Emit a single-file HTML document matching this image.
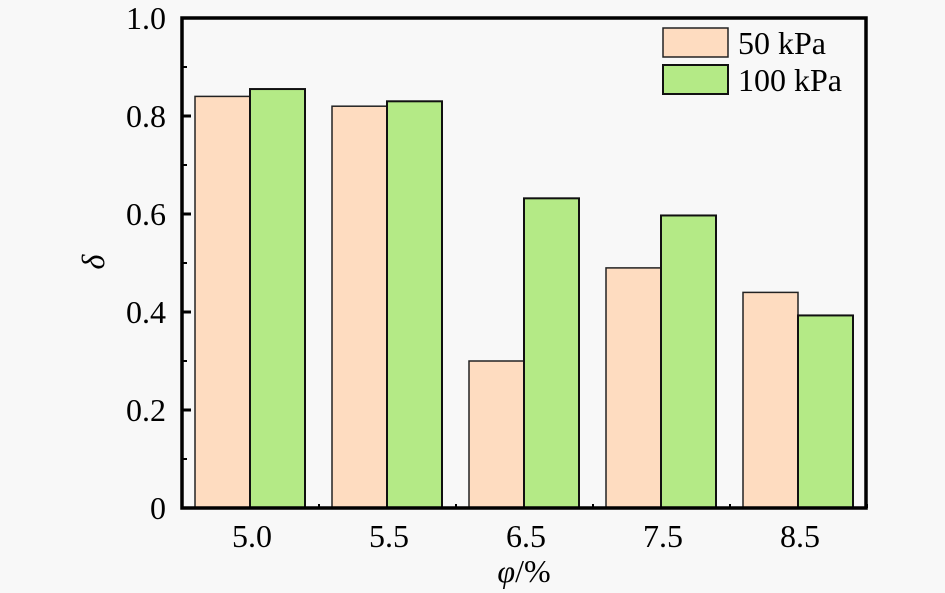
<!DOCTYPE html>
<html><head><meta charset="utf-8"><style>
html,body{margin:0;padding:0;background:#f8f8f8;}
svg{display:block;font-family:"Liberation Serif",serif;}
</style></head><body>
<svg width="945" height="593" viewBox="0 0 945 593">
<rect x="0" y="0" width="945" height="593" fill="#f8f8f8"/>
<g id="bars"></g>
<g id="axes"></g>
<g>
<rect x="663" y="28" width="65" height="29" fill="#fedcc0" stroke="#222" stroke-width="1.5"/>
<text x="738" y="54" font-size="32">50 kPa</text>
<rect x="663" y="65" width="65" height="29" fill="#b4ea86" stroke="#111" stroke-width="2"/>
<text x="738" y="91" font-size="32">100 kPa</text>
</g>
<text x="524" y="582" font-size="32" text-anchor="middle"><tspan font-style="italic">φ</tspan>/%</text>
<text transform="translate(104,262) rotate(-90)" font-size="32" font-style="italic" text-anchor="middle">δ</text>
</svg>
<script>
const categories = ["5.0","5.5","6.5","7.5","8.5"];
const series50 = [0.84,0.82,0.30,0.49,0.44];
const series100 = [0.855,0.83,0.632,0.597,0.393];
const yTicks = [0,0.2,0.4,0.6,0.8,1.0];
const yTickLabels = ["0","0.2","0.4","0.6","0.8","1.0"];
const NS="http://www.w3.org/2000/svg";
const L=182,R=866,T=18,B=508;
function y(v){return B-(v/1.0)*(B-T);}
function xc(i){return 250+i*137;}
const bw=55;
const bars=document.getElementById('bars');
function mk(tag,attrs){const e=document.createElementNS(NS,tag);for(const k in attrs)e.setAttribute(k,attrs[k]);return e;}
categories.forEach((c,i)=>{
  const r1=mk('rect',{x:xc(i)-bw,y:y(series50[i]),width:bw,height:B-y(series50[i]),fill:'#fedcc0',stroke:'#222','stroke-width':1.5});
  
  
  bars.appendChild(r1);
  const r2=mk('rect',{x:xc(i),y:y(series100[i]),width:bw,height:B-y(series100[i]),fill:'#b4ea86',stroke:'#111','stroke-width':2});
  
  
  bars.appendChild(r2);
  const t=mk('text',{x:xc(i)+2,y:547,'font-size':32,'text-anchor':'middle'});
  t.textContent=c;
  
  
  bars.appendChild(t);
  const tk=mk('line',{x1:xc(i)+bw+14,x2:xc(i)+bw+14,y1:B,y2:B-4,stroke:'#000','stroke-width':2});
  
  
  bars.appendChild(tk);
});
const axes=document.getElementById('axes');
const frame=mk('rect',{x:L,y:T,width:R-L,height:B-T,fill:'none',stroke:'#000','stroke-width':3.5});


axes.appendChild(frame);
yTicks.forEach((v,i)=>{
  const tk=mk('line',{x1:L,x2:L+9,y1:y(v),y2:y(v),stroke:'#000','stroke-width':3});
  
  
  axes.appendChild(tk);
  const t=mk('text',{x:166,y:y(v)+11,'font-size':32,'text-anchor':'end'});
  t.textContent=yTickLabels[i];
  
  
  axes.appendChild(t);
  if(i<yTicks.length-1){
    const m=mk('line',{x1:L,x2:L+5,y1:y(v+0.1),y2:y(v+0.1),stroke:'#000','stroke-width':2});
    
    
    axes.appendChild(m);
  }
});
</script>
</body></html>
